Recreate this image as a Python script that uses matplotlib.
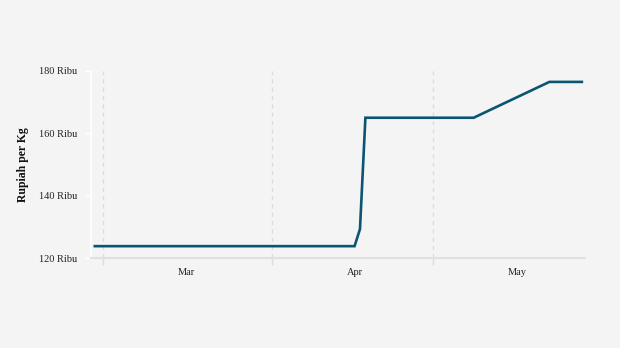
import matplotlib
matplotlib.use("Agg")
import matplotlib.pyplot as plt
import matplotlib.dates as mdates
from datetime import date, datetime

dates = [date(2024, 2, 13), date(2024, 4, 1), date(2024, 4, 2), date(2024, 4, 3),
         date(2024, 4, 23), date(2024, 5, 7), date(2024, 5, 13)]
prices = [123.8, 123.8, 129.3, 165.0, 165.0, 176.5, 176.5]

month_ticks = [date(2024, 3, 1), date(2024, 4, 1), date(2024, 5, 1)]
month_labels = ["Mar", "Apr", "May"]
grid_dates = [datetime(2024, 2, 14, 14), datetime(2024, 3, 16, 16), datetime(2024, 4, 15, 14)]
y_ticks = [120, 140, 160, 180]
y_labels = ["120 Ribu", "140 Ribu", "160 Ribu", "180 Ribu"]

bg = "#f4f4f4"
plt.rcParams["font.family"] = ["Liberation Serif", "DejaVu Serif"]

fig = plt.figure(figsize=(6.2, 3.48), dpi=100, facecolor=bg)
ax = fig.add_axes([91 / 620, 1 - 258 / 348, (585 - 91) / 620, (258 - 71) / 348])
ax.set_facecolor(bg)

ax.plot(mdates.date2num(dates), prices, color="#0b5572", lw=1.9, solid_joinstyle="miter", zorder=3)

ax.set_xlim(mdates.date2num(datetime(2024, 2, 12, 7)), mdates.date2num(datetime(2024, 5, 13, 14)))
ax.set_ylim(120, 180)

ax.set_xticks(mdates.date2num(month_ticks))
ax.set_xticklabels(month_labels, fontsize=7.5, color="#222222")
ax.tick_params(axis="x", which="major", length=0, pad=7)
ax.set_xticks(mdates.date2num(grid_dates), minor=True)
ax.tick_params(axis="x", which="minor", length=5, color="#dcdcdc", width=1)
ax.grid(True, axis="x", which="minor", color="#dcdcdc", linestyle=(0, (3, 3)), lw=1)

ax.set_yticks(y_ticks)
ax.set_yticklabels(y_labels, fontsize=7.5, color="#222222")
ax.tick_params(axis="y", length=4, color="white", width=1, pad=6)

for s in ["top", "right"]:
    ax.spines[s].set_visible(False)
ax.spines["left"].set_color("white")
ax.spines["left"].set_linewidth(1.2)
ax.spines["bottom"].set_color("#e0e0e0")
ax.spines["bottom"].set_linewidth(1.5)

ax.set_ylabel("Rupiah per Kg", fontsize=8.5, fontweight="bold", color="#111111", labelpad=7)

fig.savefig("out.png", dpi=100, facecolor=bg)
